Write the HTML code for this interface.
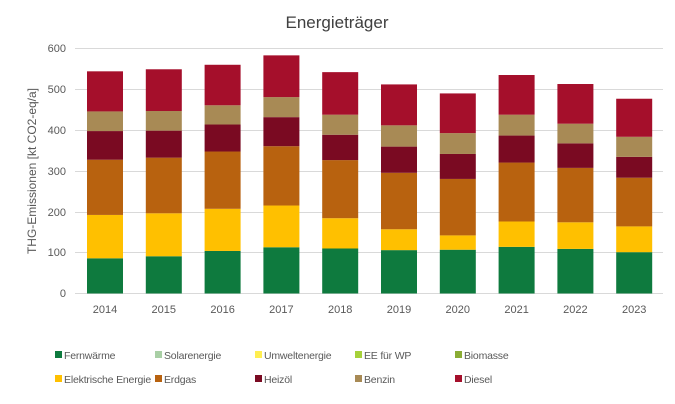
<!DOCTYPE html>
<html><head><meta charset="utf-8"><style>
body{margin:0;background:#fff}
svg{display:block;font-family:"Liberation Sans",sans-serif}
</style></head><body>
<svg width="675" height="404" viewBox="0 0 675 404">
<rect width="675" height="404" fill="#fff"/>
<text x="337" y="28" text-anchor="middle" font-size="17" fill="#404040">Energieträger</text>
<g stroke="#d9d9d9" stroke-width="1">
<line x1="75" x2="663" y1="48.5" y2="48.5"/><line x1="75" x2="663" y1="89.5" y2="89.5"/>
<line x1="75" x2="663" y1="130.5" y2="130.5"/><line x1="75" x2="663" y1="171.5" y2="171.5"/>
<line x1="75" x2="663" y1="212.5" y2="212.5"/><line x1="75" x2="663" y1="252.5" y2="252.5"/>
<line x1="75" x2="663" y1="293.5" y2="293.5"/>
</g>
<g font-size="11" fill="#595959" text-anchor="end">
<text x="66" y="52">600</text><text x="66" y="93">500</text><text x="66" y="134">400</text>
<text x="66" y="175">300</text><text x="66" y="216">200</text><text x="66" y="256">100</text><text x="66" y="297">0</text>
</g>
<text transform="translate(36,171) rotate(-90)" text-anchor="middle" font-size="12" fill="#595959">THG-Emissionen [kt CO2-eq/a]</text>
<g id="bars"></g>
<g font-size="11" fill="#595959" text-anchor="middle" id="xl"></g>
<g font-size="10.5" fill="#595959" letter-spacing="-0.2">
<rect x="55" y="351" width="7" height="7" fill="#0e7a3e"/><text x="64" y="359">Fernwärme</text>
<rect x="155" y="351" width="7" height="7" fill="#a9cfa5"/><text x="164" y="359">Solarenergie</text>
<rect x="255" y="351" width="7" height="7" fill="#ffee50"/><text x="264" y="359">Umweltenergie</text>
<rect x="355" y="351" width="7" height="7" fill="#a6d13a"/><text x="364" y="359">EE für WP</text>
<rect x="455" y="351" width="7" height="7" fill="#8aac34"/><text x="464" y="359">Biomasse</text>
<rect x="55" y="375" width="7" height="7" fill="#ffc000"/><text x="64" y="383" textLength="87" lengthAdjust="spacingAndGlyphs">Elektrische Energie</text>
<rect x="155" y="375" width="7" height="7" fill="#b8620f"/><text x="164" y="383">Erdgas</text>
<rect x="255" y="375" width="7" height="7" fill="#7a0a22"/><text x="264" y="383">Heizöl</text>
<rect x="355" y="375" width="7" height="7" fill="#a88a55"/><text x="364" y="383">Benzin</text>
<rect x="455" y="375" width="7" height="7" fill="#a50f2b"/><text x="464" y="383">Diesel</text>
</g>
</svg>
<script>
var d=[[86,192,327,397,445,543],[91,196,332,398,446,548],[104,207,347,413,460,559],[113,215,360,431,480,582],[110,184,326,388,437,541],[106,157,295,359,411,511],[107,142,280,341,392,489],[114,176,320,386,437,534],[109,174,307,367,415,512],[101,164,283,334,383,476]];
var c=["#0e7a3e","#ffc000","#b8620f","#7a0a22","#a88a55","#a50f2b"];
var ns="http://www.w3.org/2000/svg",g=document.getElementById("bars"),xl=document.getElementById("xl");
function y(v){return 293.5-v*245.5/600;}
d.forEach(function(r,i){var cx=105+i*58.8,p=0;
r.forEach(function(v,j){var e=document.createElementNS(ns,"rect");e.setAttribute("x",cx-18);e.setAttribute("width",36);e.setAttribute("y",y(v));e.setAttribute("height",y(p)-y(v));e.setAttribute("fill",c[j]);g.appendChild(e);p=v;});
var t=document.createElementNS(ns,"text");t.setAttribute("x",cx);t.setAttribute("y",313);t.textContent=2014+i;xl.appendChild(t);});
</script>
</body></html>
